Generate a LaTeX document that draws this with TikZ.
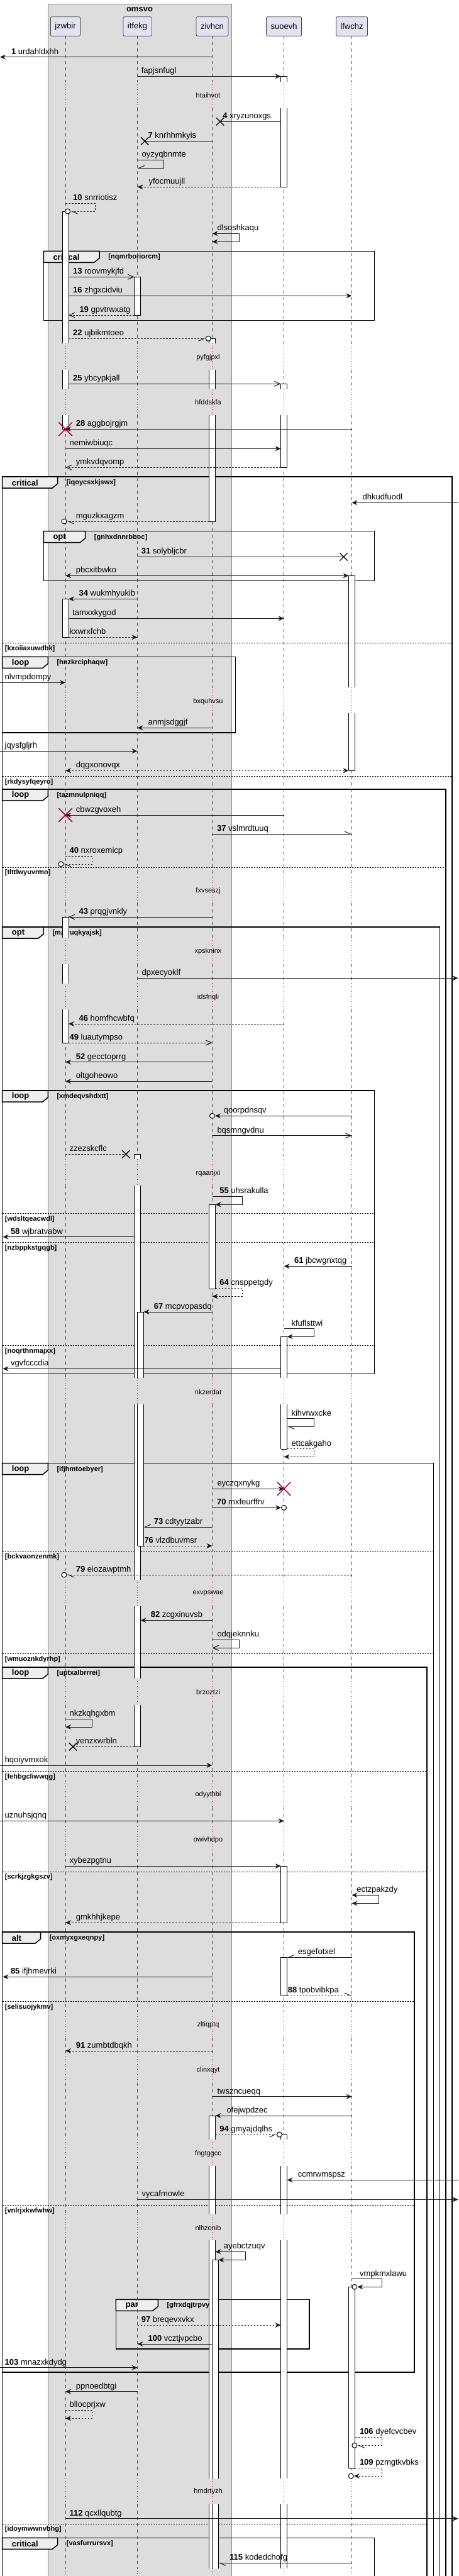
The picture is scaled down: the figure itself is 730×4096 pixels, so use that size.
\documentclass[tikz,border=0pt]{standalone}
\usepackage{fontspec}
\setmainfont{Liberation Sans}
\usetikzlibrary{arrows.meta, shapes.misc}
\definecolor{partfill}{HTML}{E2E2F0}
\definecolor{boxfill}{HTML}{DDDDDD}
\definecolor{tabfill}{HTML}{EEEEEE}
\definecolor{delayred}{HTML}{C0003C}
\definecolor{killred}{HTML}{A80036}
\tikzset{
pbox/.style={%
    rectangle,
    rounded corners=2pt,
    draw=black!70, line width=0.8pt,
    fill=partfill,
    minimum height=30.6pt, inner xsep=7pt,
    font=\fontsize{13}{15}\selectfont
},
grpbox/.style={draw=black!45, fill=boxfill},
gttl/.style={font=\fontsize{13}{15}\selectfont\bfseries},
life/.style={draw=black!70, line width=0.8pt, dash pattern=on 5pt off 5pt},
dly/.style={draw=delayred, line width=0.8pt, dash pattern=on 1pt off 3pt},
actline/.style={draw=black, line width=0.8pt},
msg/.style={draw=black!90, line width=1pt},
ret/.style={msg, dash pattern=on 2.5pt off 2.5pt},
fil/.style={->},
twoway/.style={<->},
opn/.style={-{Straight Barb[length=9pt,width=8pt]}},
hl/.style={-{Straight Barb[harpoon,length=9pt,width=8pt]}},
hr/.style={-{Straight Barb[harpoon,swap,length=9pt,width=8pt]}},
lbl/.style={anchor=base west, yshift=4.5pt, inner sep=0pt, font=\fontsize{13}{15}\selectfont},
dtxt/.style={inner sep=0pt, font=\fontsize{11}{13}\selectfont},
frm/.style={draw=black, line width=1.5pt},
tabshape/.style={draw=black, line width=1.5pt, fill=tabfill},
ttl/.style={anchor=west, inner sep=0pt, font=\fontsize{13}{15}\selectfont\bfseries},
cnd/.style={anchor=west, inner sep=0pt, font=\fontsize{11}{13}\selectfont\bfseries},
elseline/.style={draw=black, line width=1pt, dash pattern=on 2pt off 2pt},
lost/.style={cross out, draw=black, line width=1.3pt, minimum size=11pt, inner sep=0pt},
kill/.style={cross out, draw=killred, line width=1.5pt, minimum size=20pt, inner sep=0pt},
ring/.style={circle, draw=black, line width=1pt, fill=white, minimum size=8pt, inner sep=0pt},
}
% frame: name, x0, y0, x1, y1, tab right, title, guard
\newcommand\sqgroup[8]{%
  \draw[frm] (#2,#3) rectangle (#4,#5);
  \draw[tabshape] (#2,#3) -- (#6,#3) -- (#6,#3+11) -- (#6-8.5,#3+18) -- (#2,#3+18) -- cycle;
  \node[ttl] (#1) at (#2+15,#3+9.5) {#7};
  \node[cnd] (#1g) at (#6+14,#3+9.5) {#8};
}
% else line: name, x0, x1, y, guard
\newcommand\sqelse[5]{%
  \draw[elseline] (#2,#4) -- (#3,#4);
  \node[cnd] (#1) at (#2+4,#4+9) {#5};
}
% activation: left, right, pieces, closed ends
\newcommand\sqact[4]{%
  \foreach \a/\b in {#3} {
    \fill[white] (#1 |- 0,\a) rectangle (#2 |- 0,\b);
    \draw[actline] (#1 |- 0,\a) -- (#1 |- 0,\b) (#2 |- 0,\a) -- (#2 |- 0,\b);
  }
  \foreach \e in {#4} \draw[actline] (#1 |- 0,\e) -- (#2 |- 0,\e);
}

\begin{document}
\begin{tikzpicture}[x=1pt, y=-1pt, >={Stealth[length=9pt,width=8pt,inset=3pt]}]
\useasboundingbox (0,0) rectangle (730,4096);
\clip (0,0) rectangle (730,4096);

% box
\draw[grpbox] (75.8,6) rectangle (368.3,4120);
\node[gttl] (omsvo) at (222,15) {omsvo};

% participants
\node[pbox] (jzwbir) at (104,42) {jzwbir};
\node[pbox] (itfekg) at (218.5,42) {itfekg};
\node[pbox] (zivhcn) at (337.5,42) {zivhcn};
\node[pbox] (suoevh) at (451.6,42) {suoevh};
\node[pbox] (lfwchz) at (559.5,42) {lfwchz};

\coordinate (lft) at (0,0);
\coordinate (rgt) at (728.6,0);
\coordinate (fl) at (4.5,0);
\coordinate (jzL) at (99,0);    \coordinate (jzR) at (109,0);
\coordinate (itL) at (213.5,0); \coordinate (itR) at (223.5,0); \coordinate (itR2) at (228.5,0);
\coordinate (ziL) at (332.5,0); \coordinate (ziR) at (342.5,0); \coordinate (ziR2) at (347.5,0);
\coordinate (suL) at (446.6,0); \coordinate (suR) at (456.6,0);
\coordinate (lfL) at (554.5,0); \coordinate (lfR) at (564.5,0);

% groups
\sqgroup{crA}{69.3}{399.3}{595.7}{509.3}{158.2}{critical}{[nqmrboriorcm]}
\sqgroup{crB}{3.7}{758}{719.2}{4120}{91.7}{critical}{[iqoycsxkjswx]}
\sqelse{kxo}{3.7}{719.2}{1022.3}{[kxoiiaxuwdbk]}
\sqelse{rkd}{3.7}{719.2}{1234.3}{[rkdysyfqeyro]}
\sqgroup{opA}{69.3}{844.7}{595.7}{923.3}{135.7}{opt}{[gnhxdnnrbboc]}
\sqgroup{lpA}{3.7}{1044.3}{374.4}{1165}{76.3}{loop}{[hnzkrciphaqw]}
\sqgroup{lpB}{3.7}{1255}{709}{4120}{76.3}{loop}{[tazmnulpniqq]}
\sqelse{tlt}{3.7}{709}{1379}{[tlttlwyuvrmo]}
\sqgroup{opB}{3.7}{1474}{699.6}{4120}{69.3}{opt}{[mzrruqkyajsk]}
\sqgroup{lpC}{3.7}{1734}{595.7}{2184.3}{76.3}{loop}{[xmdeqvshdxtt]}
\sqelse{wds}{3.7}{595.7}{1929.3}{[wdsltqeacwdl]}
\sqelse{nzb}{3.7}{595.7}{1975.7}{[nzbppkstgqgb]}
\sqelse{noq}{3.7}{595.7}{2139.3}{[noqrthnmajxx]}
\sqgroup{lpD}{3.7}{2326.7}{689.3}{4120}{76.3}{loop}{[ifjhmtoebyer]}
\sqelse{bck}{3.7}{689.3}{2466.7}{[bckvaonzenmk]}
\sqelse{wmu}{3.7}{689.3}{2629.3}{[wmuoznkdyrhp]}
\sqgroup{lpE}{3.7}{2651}{679}{4120}{76.3}{loop}{[uptxalbrrrei]}
\sqelse{feh}{3.7}{679}{2816.3}{[fehbgcliwwqg]}
\sqelse{scr}{3.7}{679}{2976}{[scrkjzgkgszv]}
\sqgroup{alA}{3.7}{3072}{658.9}{3772}{64.6}{alt}{[oxmyxgxeqnpy]}
\sqelse{sel}{3.7}{658.9}{3182.3}{[selisuojykmv]}
\sqelse{vnl}{3.7}{658.9}{3506.3}{[vnlrjxkwfwhw]}
\sqgroup{paA}{184.4}{3656.3}{491.8}{3735}{251.3}{par}{[gfrxdqjtrpvy]}
\sqelse{ido}{3.7}{679}{4013}{[idoymwwnvbhg]}
\sqgroup{crC}{3.7}{4035.3}{595.7}{4120}{91.7}{critical}{[vasfurrursvx]}

% lifelines
\foreach \p in {jzwbir,itfekg,zivhcn,suoevh,lfwchz} {
  \foreach \a/\b in {57.3/130, 171.7/546, 588/618.7, 660.3/1092.7, 1134.3/1394.5,
      1436.3/1491.3, 1533/1563.7, 1605.3/1843.3, 1885/2191.3, 2233/2512.3,
      2554/2669.3, 2711.3/2832, 2873.7/2903.8, 2945.5/3198, 3240/3269.8,
      3311.5/3402, 3444/3520.7, 3562.3/3941, 3982/4083.7}
    \draw[life] (\p |- 0,\a) -- (\p |- 0,\b);
  \foreach \a/\b in {130/171.7, 546/588, 618.7/660.3, 1092.7/1134.3, 1394.5/1436.3,
      1491.3/1533, 1563.7/1605.3, 1843.3/1885, 2191.3/2233, 2512.3/2554,
      2669.3/2711.3, 2832/2873.7, 2903.8/2945.5, 3198/3240, 3269.8/3311.5,
      3402/3444, 3520.7/3562.3, 3941/3982, 4083.7/4130}
    \draw[dly] (\p |- 0,\a) -- (\p |- 0,\b);
}

% activations
\sqact{jzL}{jzR}{336.7/546, 588/618.7, 660.3/682.3, 952.3/1013.3, 1458/1491.3, 1533/1563.7, 1605.3/1658}
  {336.7, 682.3, 952.3, 1013.3, 1458, 1658}
\sqact{itL}{itR}{440.3/501, 1835.3/1843.3, 1885/2191.3, 2233/2512.3, 2554/2669.3, 2711.3/2777.3}
  {440.3, 501, 1835.3, 2777.3}
\sqact{itfekg}{itR2}{2086/2191.3, 2233/2458}{2086, 2458}
\sqact{ziL}{ziR}{538.3/546, 588/618.7, 660.3/829, 1915.3/2049, 3364/3402, 3444/3520.7, 3562.3/3941, 3982/4083.7}
  {538.3, 829, 1915.3, 2049, 3364}
\sqact{zivhcn}{ziR2}{3593.3/3941, 3982/4083.7}{3593.3}
\sqact{suL}{suR}{121.3/130, 171.7/297.3, 610.3/618.7, 660.3/743.3, 2125.3/2191.3, 2233/2304.3,
    2967/3057, 3112.3/3173, 3394/3402, 3444/3520.7, 3562.3/3941, 3982/4083.7}
  {121.3, 297.3, 610.3, 743.3, 2125.3, 2304.3, 2967, 3057, 3112.3, 3173, 3394}
\sqact{lfL}{lfR}{915.3/1092.7, 1134.3/1225.3, 3636.3/3925.3}{915.3, 1225.3, 3636.3, 3925.3}

% delays
\foreach \t/\y in {htaihvot/151.7, pyfgjpxl/568.7, hfddskfa/639.7, bxquhvsu/1115.3,
    fxvseszj/1416.3, xpskninx/1513, idsfnqli/1585.3, rqaanjxi/1865.3, nkzerdat/2213.3,
    exvpswae/2534, brzoztzi/2690.7, odyythbi/2853.3, owivhdpo/2925.3, zltiqptq/3219.7,
    clinxqyt/3291.3, fngtggcc/3424.7, nlhzonib/3542.3, hmdrtyzh/3962}
  \node[dtxt] (\t) at (331,\y) {\t};

% messages
\draw[msg,fil] (zivhcn |- 0,90.7) -- (lft |- 0,90.7);
\node[lbl] (urdahldxhh) at (17.8,90.7) {\textbf{1} urdahldxhh};
\draw[msg,fil] (itfekg |- 0,121.3) -- (suL |- 0,121.3);
\node[lbl] (fapjsnfugl) at (224.6,121.3) {fapjsnfugl};
\node[lost] (xa) at (350,193.3) {};
\draw[msg] (suL |- 0,193.3) -- (xa.center);
\node[lbl] (xryzunoxgs) at (354.2,193.3) {\textbf{4} xryzunoxgs};
\node[lost] (xb) at (230.2,224.3) {};
\draw[msg] (zivhcn |- 0,224.3) -- (xb.center);
\node[lbl] (knrhhmkyis) at (235.4,224.3) {\textbf{7} knrhhmkyis};
\draw[msg,hr] (itfekg |- 0,254.3) -- ++(42,0) |- (itfekg |- 0,267.3);
\node[lbl] (oyzyqbnmte) at (225.5,254.3) {oyzyqbnmte};
\draw[ret,fil] (suL |- 0,297.3) -- (itfekg |- 0,297.3);
\node[lbl] (yfocmuujll) at (236.3,297.3) {yfocmuujll};
\node[ring] (ra) at (107.6,336) {};
\draw[ret,hl] (jzwbir |- 0,323.3) -- ++(47,0) |- (ra);
\node[lbl] (snrriotisz) at (116,323.3) {\textbf{10} snrriotisz};
\draw[msg,twoway] (zivhcn |- 0,371.3) -- ++(43,0) |- (zivhcn |- 0,384.3);
\node[lbl] (dlsoshkaqu) at (345.3,371.3) {dlsoshkaqu};
\draw[msg,opn] (jzR |- 0,440.3) -- (itL |- 0,440.3);
\node[lbl] (roovmykjfd) at (116,440.3) {\textbf{13} roovmykjfd};
\draw[msg,fil] (jzR |- 0,470.3) -- (lfwchz |- 0,470.3);
\node[lbl] (zhgxcidviu) at (116,470.3) {\textbf{16} zhgxcidviu};
\draw[ret,opn] (itL |- 0,501) -- (jzR |- 0,501);
\node[lbl] (gpvtrwxatg) at (126.3,501) {\textbf{19} gpvtrwxatg};
\node[ring] (rb) at (331.3,538.3) {};
\draw[ret,hr] (jzR |- 0,538.3) -- (rb);
\node[lbl] (ujbikmtoeo) at (116,538.3) {\textbf{22} ujbikmtoeo};
\draw[msg,opn] (jzR |- 0,610.3) -- (suL |- 0,610.3);
\node[lbl] (ybcypkjall) at (116,610.3) {\textbf{25} ybcypkjall};
\draw[msg,fil] (lfwchz |- 0,682.3) -- (jzwbir |- 0,682.3);
\node[kill] (ka) at (jzwbir |- 0,682.3) {};
\node[lbl] (aggbojrgjm) at (120.7,682.3) {\textbf{28} aggbojrgjm};
\draw[msg,fil] (jzwbir |- 0,713.3) -- (suL |- 0,713.3);
\node[lbl] (nemiwbiuqc) at (110.4,713.3) {nemiwbiuqc};
\draw[ret,opn] (suL |- 0,743.3) -- (jzwbir |- 0,743.3);
\node[lbl] (ymkvdqvomp) at (120.7,743.3) {ymkvdqvomp};
\draw[msg,fil] (rgt |- 0,799.3) -- (lfwchz |- 0,799.3);
\node[lbl] (dhkudfuodl) at (576.5,799.3) {dhkudfuodl};
\node[ring] (rc) at (102,829) {};
\draw[ret,hl] (ziL |- 0,829) -- (rc);
\node[lbl] (mguzkxagzm) at (120.7,829) {mguzkxagzm};
\node[lost] (xc) at (546.6,885.3) {};
\draw[msg] (itfekg |- 0,885.3) -- (xc.center);
\node[lbl] (solybljcbr) at (224.6,885.3) {\textbf{31} solybljcbr};
\draw[msg,twoway] (jzwbir |- 0,915.3) -- (lfL |- 0,915.3);
\node[lbl] (pbcxitbwko) at (120.7,915.3) {pbcxitbwko};
\draw[msg,fil] (itfekg |- 0,952.3) -- (jzR |- 0,952.3);
\node[lbl] (wukmhyukib) at (125.4,952.3) {\textbf{34} wukmhyukib};
\draw[msg,fil] (jzR |- 0,983.3) -- (suoevh |- 0,983.3);
\node[lbl] (tamxxkygod) at (115.1,983.3) {tamxxkygod};
\draw[ret,fil] (jzR |- 0,1013.3) -- (itfekg |- 0,1013.3);
\node[lbl] (kxwrxfchb) at (110.4,1013.3) {kxwrxfchb};
\draw[msg,fil] (lft |- 0,1085.3) -- (jzwbir |- 0,1085.3);
\node[lbl] (nlvmpdompy) at (7.5,1085.3) {nlvmpdompy};
\draw[msg,fil] (zivhcn |- 0,1157.3) -- (itfekg |- 0,1157.3);
\node[lbl] (anmjsdggjf) at (235.4,1157.3) {anmjsdggjf};
\draw[msg,fil] (lft |- 0,1194.3) -- (itfekg |- 0,1194.3);
\node[lbl] (jqysfgljrh) at (7.5,1194.3) {jqysfgljrh};
\draw[ret,twoway] (jzwbir |- 0,1225.3) -- (lfL |- 0,1225.3);
\node[lbl] (dqgxonovqx) at (120.7,1225.3) {dqgxonovqx};
\draw[msg,fil] (suoevh |- 0,1296) -- (jzwbir |- 0,1296);
\node[kill] (kb) at (jzwbir |- 0,1296) {};
\node[lbl] (cbwzgvoxeh) at (120.7,1296) {cbwzgvoxeh};
\draw[msg,hl] (zivhcn |- 0,1326) -- (lfwchz |- 0,1326);
\node[lbl] (vslmrdtuuq) at (344.9,1326) {\textbf{37} vslmrdtuuq};
\node[ring] (rd) at (96.9,1374) {};
\draw[ret,hl] (jzwbir |- 0,1361) -- ++(42.5,0) |- (rd);
\node[lbl] (nxroxemicp) at (110.4,1361) {\textbf{40} nxroxemicp};
\draw[msg,opn] (zivhcn |- 0,1458) -- (jzR |- 0,1458);
\node[lbl] (prqgjvnkly) at (125.4,1458) {\textbf{43} prqgjvnkly};
\draw[msg,fil] (itfekg |- 0,1555.3) -- (rgt |- 0,1555.3);
\node[lbl] (dpxecyoklf) at (225.5,1555.3) {dpxecyoklf};
\draw[ret,fil] (suoevh |- 0,1628) -- (jzR |- 0,1628);
\node[lbl] (homfhcwbfq) at (125.4,1628) {\textbf{46} homfhcwbfq};
\draw[ret,opn] (jzR |- 0,1658) -- (zivhcn |- 0,1658);
\node[lbl] (luautympso) at (110.4,1658) {\textbf{49} luautympso};
\draw[msg,fil] (zivhcn |- 0,1688.7) -- (jzwbir |- 0,1688.7);
\node[lbl] (gecctoprrg) at (120.7,1688.7) {\textbf{52} gecctoprrg};
\draw[msg,fil] (zivhcn |- 0,1719.3) -- (jzwbir |- 0,1719.3);
\node[lbl] (oltgoheowo) at (120.7,1719.3) {oltgoheowo};
\node[ring] (re) at (zivhcn |- 0,1774.3) {};
\draw[msg,fil] (lfwchz |- 0,1774.3) -- (re);
\node[lbl] (qoorpdnsqv) at (355.6,1774.3) {qoorpdnsqv};
\draw[msg,opn] (zivhcn |- 0,1805.7) -- (lfwchz |- 0,1805.7);
\node[lbl] (bqsmngvdnu) at (345.3,1805.7) {bqsmngvdnu};
\node[lost] (xd) at (200.3,1835.3) {};
\draw[ret] (jzwbir |- 0,1835.3) -- (xd.center);
\node[lbl] (zzezskcflc) at (110.4,1835.3) {zzezskcflc};
\draw[msg,fil] (zivhcn |- 0,1902.3) -- ++(47.5,0) |- (ziR |- 0,1915.3);
\node[lbl] (uhsrakulla) at (349.1,1902.3) {\textbf{55} uhsrakulla};
\draw[msg,fil] (itL |- 0,1966.7) -- (fl |- 0,1966.7);
\node[lbl] (wjbratvabw) at (16.8,1966.7) {\textbf{58} wjbratvabw};
\draw[msg,fil] (lfwchz |- 0,2013.3) -- (suoevh |- 0,2013.3);
\node[lbl] (jbcwgnxtqg) at (468,2013.3) {\textbf{61} jbcwgnxtqg};
\draw[ret,fil] (ziR |- 0,2048.3) -- ++(42.5,0) |- (zivhcn |- 0,2061.3);
\node[lbl] (cnsppetgdy) at (349.1,2048.3) {\textbf{64} cnsppetgdy};
\draw[msg,fil] (zivhcn |- 0,2086) -- (itR2 |- 0,2086);
\node[lbl] (mcpvopasdq) at (244.7,2086) {\textbf{67} mcpvopasdq};
\draw[msg,fil] (suoevh |- 0,2112.7) -- ++(47.7,0) |- (suR |- 0,2125.3);
\node[lbl] (kfuflsttwi) at (463.3,2112.7) {kfuflsttwi};
\draw[msg,fil] (suL |- 0,2176.3) -- (fl |- 0,2176.3);
\node[lbl] (vgvfcccdia) at (16.8,2176.3) {vgvfcccdia};
\draw[msg,hl] (suR |- 0,2255.7) -- ++(42.7,0) |- (suR |- 0,2268.3);
\node[lbl] (kihvrwxcke) at (463.3,2255.7) {kihvrwxcke};
\draw[ret,fil] (suR |- 0,2303.7) -- ++(42.7,0) |- (suoevh |- 0,2316.3);
\node[lbl] (ettcakgaho) at (463.3,2303.7) {ettcakgaho};
\draw[msg,fil] (zivhcn |- 0,2367.3) -- (suoevh |- 0,2367.3);
\node[kill] (kc) at (suoevh |- 0,2367.3) {};
\node[lbl] (eyczqxnykg) at (345.3,2367.3) {eyczqxnykg};
\node[ring] (rf) at (suoevh |- 0,2397.3) {};
\draw[msg,fil] (zivhcn |- 0,2397.3) -- (rf);
\node[lbl] (mxfeurffrv) at (344.9,2397.3) {\textbf{70} mxfeurffrv};
\draw[msg,hr] (zivhcn |- 0,2428) -- (itR2 |- 0,2428);
\node[lbl] (cdtyytzabr) at (244.7,2428) {\textbf{73} cdtyytzabr};
\draw[ret,fil] (itR2 |- 0,2458) -- (zivhcn |- 0,2458);
\node[lbl] (vlzdbuvmsr) at (229.3,2458) {\textbf{76} vlzdbuvmsr};
\node[ring] (rg) at (102,2504) {};
\draw[ret,hl] (lfwchz |- 0,2504) -- (rg);
\node[lbl] (eiozawptmh) at (120.7,2504) {\textbf{79} eiozawptmh};
\draw[msg,fil] (zivhcn |- 0,2576.3) -- (itR |- 0,2576.3);
\node[lbl] (zcgxinuvsb) at (239.6,2576.3) {\textbf{82} zcgxinuvsb};
\draw[msg,opn] (zivhcn |- 0,2607.3) -- ++(43,0) |- (zivhcn |- 0,2620.3);
\node[lbl] (odqjeknnku) at (345.3,2607.3) {odqjeknnku};
\draw[msg,fil] (jzwbir |- 0,2733.3) -- ++(42.5,0) |- (jzwbir |- 0,2746);
\node[lbl] (nkzkqhgxbm) at (110.4,2733.3) {nkzkqhgxbm};
\node[lost] (xe) at (116,2777.3) {};
\draw[ret] (itL |- 0,2777.3) -- (xe.center);
\node[lbl] (yenzxwrbln) at (120.7,2777.3) {yenzxwrbln};
\draw[msg,fil] (lft |- 0,2807) -- (zivhcn |- 0,2807);
\node[lbl] (hqoiyvmxok) at (7.5,2807) {hqoiyvmxok};
\draw[msg,fil] (lft |- 0,2895.3) -- (suoevh |- 0,2895.3);
\node[lbl] (uznuhsjqnq) at (7.5,2895.3) {uznuhsjqnq};
\draw[msg,fil] (jzwbir |- 0,2967) -- (suL |- 0,2967);
\node[lbl] (xybezpgtnu) at (110.4,2967) {xybezpgtnu};
\draw[msg,twoway] (lfwchz |- 0,3013.3) -- ++(43.2,0) |- (lfwchz |- 0,3026.3);
\node[lbl] (ectzpakzdy) at (567.2,3013.3) {ectzpakzdy};
\draw[ret,fil] (suL |- 0,3057) -- (jzwbir |- 0,3057);
\node[lbl] (gmkhhjkepe) at (120.7,3057) {gmkhhjkepe};
\draw[msg,hr] (lfwchz |- 0,3112.3) -- (suR |- 0,3112.3);
\node[lbl] (esgefotxel) at (473.6,3112.3) {esgefotxel};
\draw[msg,fil] (zivhcn |- 0,3143.3) -- (fl |- 0,3143.3);
\node[lbl] (ifjhmevrki) at (16.8,3143.3) {\textbf{85} ifjhmevrki};
\draw[ret,hl] (suR |- 0,3173) -- (lfwchz |- 0,3173);
\node[lbl] (tpobvibkpa) at (457.6,3173) {\textbf{88} tpobvibkpa};
\draw[ret,fil] (zivhcn |- 0,3261) -- (jzwbir |- 0,3261);
\node[lbl] (zumbtdbqkh) at (120.7,3261) {\textbf{91} zumbtdbqkh};
\draw[msg,fil] (zivhcn |- 0,3333.7) -- (lfwchz |- 0,3333.7);
\node[lbl] (twszncueqq) at (345.3,3333.7) {twszncueqq};
\draw[msg,fil] (lfwchz |- 0,3364) -- (ziR |- 0,3364);
\node[lbl] (ofejwpdzec) at (360.3,3364) {ofejwpdzec};
\node[ring] (rh) at (444.5,3394) {};
\draw[ret,hr] (ziR |- 0,3394) -- (rh);
\node[lbl] (gmyajdqlhs) at (349.1,3394) {\textbf{94} gmyajdqlhs};
\draw[msg,fil] (rgt |- 0,3466.3) -- (suR |- 0,3466.3);
\node[lbl] (ccmrwmspsz) at (473.6,3466.3) {ccmrwmspsz};
\draw[msg,fil] (itfekg |- 0,3497.3) -- (rgt |- 0,3497.3);
\node[lbl] (vycafmowle) at (225.5,3497.3) {vycafmowle};
\draw[msg,twoway] (ziR |- 0,3580.3) -- ++(47.8,0) |- (ziR2 |- 0,3593.3);
\node[lbl] (ayebctzuqv) at (355.6,3580.3) {ayebctzuqv};
\node[ring] (ri) at (563.9,3636.3) {};
\draw[msg,fil] (lfwchz |- 0,3623.7) -- ++(47.9,0) |- (ri);
\node[lbl] (vmpkmxlawu) at (571.8,3623.7) {vmpkmxlawu};
\draw[ret,fil] (itfekg |- 0,3697) -- (suL |- 0,3697);
\node[lbl] (breqevxvkx) at (224.6,3697) {\textbf{97} breqevxvkx};
\draw[msg,fil] (zivhcn |- 0,3727) -- (itfekg |- 0,3727);
\node[lbl] (vcztjvpcbo) at (235.4,3727) {\textbf{100} vcztjvpcbo};
\draw[msg,fil] (lft |- 0,3764.7) -- (itfekg |- 0,3764.7);
\node[lbl] (mnazxkdydg) at (7.5,3764.7) {\textbf{103} mnazxkdydg};
\draw[msg,fil] (itfekg |- 0,3802.7) -- (jzwbir |- 0,3802.7);
\node[lbl] (ppnoedbtgi) at (120.7,3802.7) {ppnoedbtgi};
\draw[ret,fil] (jzwbir |- 0,3832.3) -- ++(42.5,0) |- (jzwbir |- 0,3845.3);
\node[lbl] (bllocprjxw) at (110.4,3832.3) {bllocprjxw};
\node[ring] (rj) at (563.9,3888.3) {};
\draw[ret,hl] (lfR |- 0,3875.3) -- ++(42.9,0) |- (rj);
\node[lbl] (dyefcvcbev) at (571.8,3875.3) {\textbf{106} dyefcvcbev};
\node[ring] (rk) at (558.3,3937) {};
\draw[ret,fil] (lfR |- 0,3924.3) -- ++(42.9,0) |- (rk);
\node[lbl] (pzmgtkvbks) at (571.8,3924.3) {\textbf{109} pzmgtkvbks};
\draw[msg,fil] (jzwbir |- 0,4004.7) -- (rgt |- 0,4004.7);
\node[lbl] (qcxllqubtg) at (110.4,4004.7) {\textbf{112} qcxllqubtg};
\draw[msg,hl] (lfwchz |- 0,4075.3) -- (ziR2 |- 0,4075.3);
\node[lbl] (kodedchofg) at (365,4075.3) {\textbf{115} kodedchofg};
\end{tikzpicture}
\end{document}
